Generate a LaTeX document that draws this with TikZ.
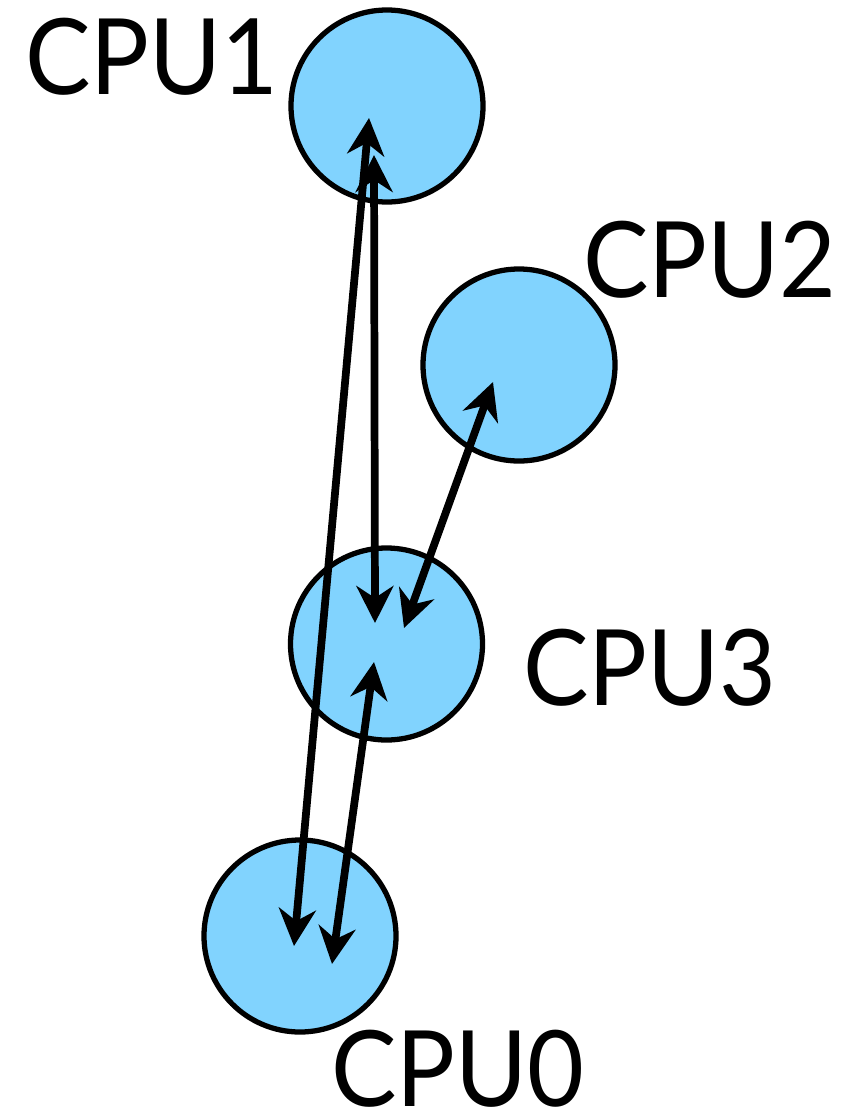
\documentclass[tikz,border=0pt]{standalone}
\usepackage{fontspec}
\setmainfont{Lato}
\usetikzlibrary{arrows.meta}
\definecolor{cpublue}{HTML}{81D3FE}
\tikzset{
  cpu/.style={circle,draw=black,line width=1.5pt,fill=cpublue,minimum size=1.92cm,inner sep=0pt},
  lbl/.style={font=\fontsize{30}{36}\selectfont,inner sep=0pt,anchor=center,xscale=0.93},
  link/.style={line width=2.2pt,{Stealth[length=0.37cm,width=0.37cm,inset=0.12cm]}-{Stealth[length=0.37cm,width=0.37cm,inset=0.12cm]}}
}
\begin{document}
\begin{tikzpicture}
\useasboundingbox (0,0) rectangle (8.62,-11.2);
\node[cpu] (cpu1) at (3.87,-1.06) {};
\node[cpu] (cpu2) at (5.19,-3.65) {};
\node[cpu] (cpu3) at (3.865,-6.44) {};
\node[cpu] (cpu0) at (3.00,-9.36) {};
\node[lbl] (l1) at (1.52,-0.57) {CPU1};
\node[lbl] (l2) at (7.10,-2.60) {CPU2};
\node[lbl] (l3) at (6.50,-6.68) {CPU3};
\node[lbl] (l0) at (4.58,-10.69) {CPU0};
\coordinate (a1) at (3.69,-1.18);
\coordinate (a0) at (2.94,-9.46);
\coordinate (b1) at (3.74,-1.55);
\coordinate (b3) at (3.75,-6.23);
\coordinate (c2) at (4.93,-3.82);
\coordinate (c3) at (4.04,-6.28);
\coordinate (d3) at (3.74,-6.62);
\coordinate (d0) at (3.32,-9.64);
\draw[link] (a1) -- (a0);
\draw[link] (b1) -- (b3);
\draw[link] (c2) -- (c3);
\draw[link] (d3) -- (d0);
\end{tikzpicture}
\end{document}
